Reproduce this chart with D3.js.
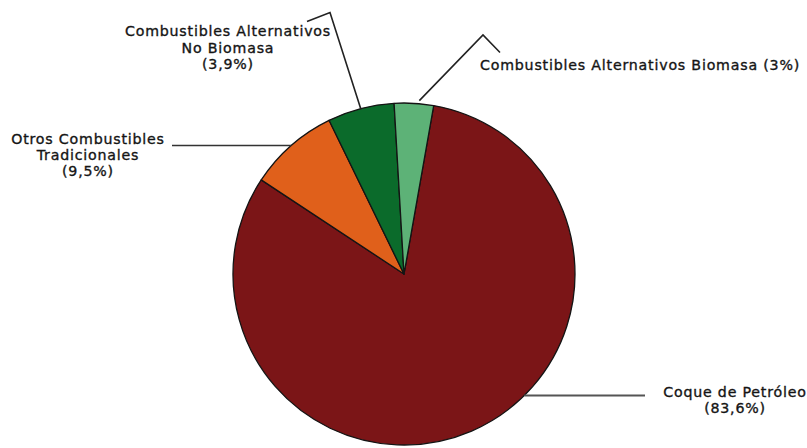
<!DOCTYPE html>
<html>
<head>
<meta charset="utf-8">
<script src="https://cdn.jsdelivr.net/npm/d3@7"></script>
<style>
  html, body { margin: 0; padding: 0; background: #ffffff; }
  svg { display: block; }
  text { font-family: "DejaVu Sans", "Open Sans", sans-serif; font-size: 14.2px; font-weight: normal; fill: #151515; stroke: #151515; stroke-width: 0.35px; letter-spacing: 0.8px; }
</style>
</head>
<body>
<script>
// ---- data ----
const categories = ["Coque de Petróleo", "Otros Combustibles Tradicionales", "Combustibles Alternativos No Biomasa", "Combustibles Alternativos Biomasa"];
const values = [81.5, 8.5, 6.3, 3.7];           // slice sizes as drawn (percent of circle)
const percentLabels = ["83,6%", "9,5%", "3,9%", "3%"];
const labelLines = [
  ["Coque de Petróleo", "(83,6%)"],
  ["Otros Combustibles", "Tradicionales", "(9,5%)"],
  ["Combustibles Alternativos", "No Biomasa", "(3,9%)"],
  ["Combustibles Alternativos Biomasa (3%)"]
];
const colors = ["#7b1517", "#e0601b", "#0b6b2b", "#5db277"];

// ---- layout ----
const W = 807, H = 448;
const cx = 404, cy = 274, R = 171;
const startDeg = 10;

const svg = d3.select("body").append("svg").attr("width", W).attr("height", H);

const pie = d3.pie().sort(null).value(d => d)
  .startAngle(startDeg * Math.PI / 180)
  .endAngle(startDeg * Math.PI / 180 + 2 * Math.PI);
const arcs = pie(values);
const arc = d3.arc().innerRadius(0).outerRadius(R);

const g = svg.append("g").attr("transform", `translate(${cx},${cy})`);
g.selectAll("path.slice").data(arcs).enter().append("path")
  .attr("class", "slice")
  .attr("d", arc)
  .attr("fill", (d, i) => colors[i])
  .attr("stroke", "#141414")
  .attr("stroke-width", 1.3)
  .attr("stroke-linejoin", "round");

function edgePoint(angle, r) {
  return [cx + r * Math.sin(angle), cy - r * Math.cos(angle)];
}
const mid = d => (d.startAngle + d.endAngle) / 2;

// leader lines (annotation layout)
const lineGen = d3.line();
// No Biomasa
{
  const p0 = edgePoint(mid(arcs[2]), R - 1);
  svg.append("path").attr("d", lineGen([p0, [330, 12.5], [307, 21.5]]))
    .attr("fill", "none").attr("stroke", "#222").attr("stroke-width", 1.6);
}
// Biomasa
{
  const p0 = edgePoint(mid(arcs[3]) + 0.03, R + 3);
  svg.append("path").attr("d", lineGen([p0, [483, 35], [500, 52.5]]))
    .attr("fill", "none").attr("stroke", "#222").attr("stroke-width", 1.6);
}
// Otros
{
  const p0 = edgePoint(mid(arcs[1]), R);
  svg.append("path").attr("d", lineGen([p0, [172, p0[1]]]))
    .attr("fill", "none").attr("stroke", "#333").attr("stroke-width", 1.6);
}
// Coque
{
  const ly = 395.5;
  const dx = Math.sqrt(R * R - (ly - cy) * (ly - cy));
  svg.append("path").attr("d", lineGen([[cx + dx, ly], [645, ly]]))
    .attr("fill", "none").attr("stroke", "#555").attr("stroke-width", 2);
}

// labels
const labelPos = [
  { x: 735, y: 397, anchor: "middle", dy: 16 },
  { x: 88, y: 144, anchor: "middle", dy: 16 },
  { x: 228, y: 36, anchor: "middle", dy: 16.5 },
  { x: 480, y: 70, anchor: "start", dy: 16 }
];
labelLines.forEach((lines, i) => {
  const p = labelPos[i];
  const t = svg.append("text").attr("text-anchor", p.anchor);
  lines.forEach((s, j) => {
    t.append("tspan").attr("x", p.x).attr("y", p.y + j * p.dy).text(s);
  });
});
</script>
</body>
</html>
